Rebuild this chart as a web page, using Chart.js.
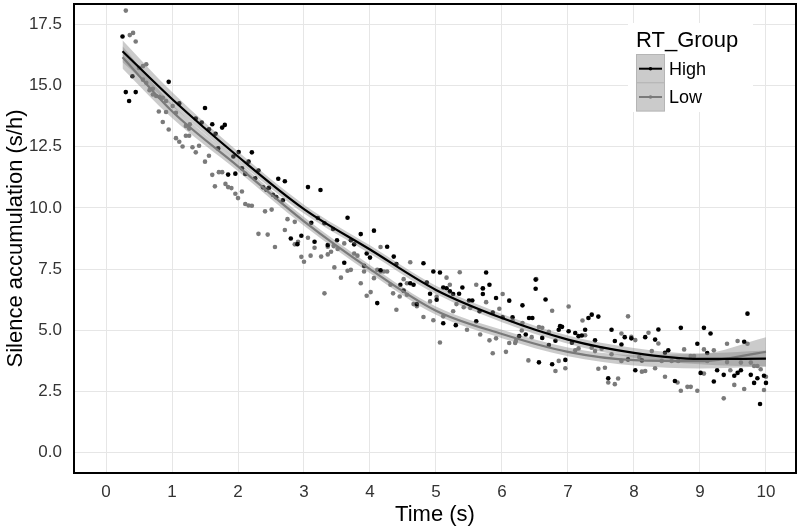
<!DOCTYPE html>
<html><head><meta charset="utf-8">
<script src="https://cdn.jsdelivr.net/npm/chart.js@4.4.0/dist/chart.umd.min.js"></script>
<style>html,body{margin:0;padding:0;background:#fff}#wrap{width:800px;height:529px;position:relative}</style>
</head><body><div id="wrap"><canvas id="c" width="800" height="529"></canvas></div>
<script>
// ---- data ----
const xTicks = [0,1,2,3,4,5,6,7,8,9,10];
const yTicks = [0,2.5,5,7.5,10,12.5,15,17.5];
const xTitle = 'Time (s)';
const yTitle = 'Silence accumulation (s/h)';
const groupTitle = 'RT_Group';
const groupNames = ['High','Low'];

const highPoints = [[0.25,17.0],[0.30,14.73],[0.35,14.37],[0.40,15.38],[0.45,14.73],[0.95,15.15],[1.11,14.27],[1.36,13.65],[1.45,13.49],[1.50,14.08],[1.56,13.21],[1.61,13.42],[1.66,13.03],[1.70,12.43],[1.76,13.28],[1.80,13.39],[1.85,11.36],[1.93,12.10],[1.96,11.40],[2.01,12.28],[2.06,11.62],[2.11,11.39],[2.16,11.89],[2.21,12.27],[2.26,11.21],[2.31,11.53],[2.38,10.84],[2.43,10.74],[2.47,10.82],[2.53,10.54],[2.58,10.44],[2.61,11.19],[2.68,10.31],[2.71,11.09],[2.80,8.75],[2.90,8.52],[2.96,8.86],[3.06,10.85],[3.11,9.39],[3.16,8.62],[3.21,9.59],[3.25,10.73],[3.31,9.37],[3.36,8.48],[3.44,9.14],[3.50,8.68],[3.61,7.76],[3.66,9.60],[3.71,8.68],[3.76,8.51],[3.86,8.93],[3.91,7.63],[3.95,8.14],[4.00,7.97],[4.06,9.07],[4.11,6.11],[4.16,7.45],[4.26,8.41],[4.36,8.01],[4.40,7.71],[4.46,6.86],[4.51,6.62],[4.61,6.92],[4.66,6.86],[4.71,6.07],[4.81,7.74],[4.86,6.95],[4.91,6.49],[4.96,7.40],[5.01,6.25],[5.06,7.36],[5.11,6.75],[5.11,5.29],[5.16,6.72],[5.21,6.59],[5.26,6.48],[5.30,5.21],[5.35,6.49],[5.40,6.75],[5.50,6.22],[5.55,6.22],[5.61,5.37],[5.66,5.78],[5.71,6.72],[5.71,6.48],[5.76,7.36],[5.81,6.86],[5.86,5.72],[5.91,6.32],[6.01,5.53],[6.11,6.21],[6.16,5.53],[6.26,4.76],[6.31,6.02],[6.36,4.83],[6.41,5.50],[6.46,5.50],[6.51,7.07],[6.51,6.70],[6.56,3.69],[6.61,4.69],[6.66,6.26],[6.71,4.40],[6.76,3.61],[6.81,4.57],[6.86,5.02],[6.88,5.17],[6.91,5.14],[6.96,3.79],[7.01,4.96],[7.06,4.49],[7.11,4.89],[7.16,4.76],[7.21,4.79],[7.26,5.02],[7.31,5.50],[7.36,5.64],[7.41,4.59],[7.46,5.56],[7.61,3.04],[7.66,5.02],[7.71,4.56],[7.81,4.42],[7.86,4.72],[7.91,3.81],[7.96,4.67],[8.02,3.37],[8.12,3.77],[8.17,4.72],[8.32,4.62],[8.37,5.03],[8.47,4.08],[8.52,4.18],[8.62,2.93],[8.71,5.10],[8.96,4.45],[9.01,3.26],[9.06,5.10],[9.11,4.07],[9.16,4.87],[9.21,2.91],[9.26,3.37],[9.36,3.18],[9.52,3.14],[9.57,3.26],[9.62,3.37],[9.67,4.53],[9.72,5.68],[9.77,3.18],[9.82,2.85],[9.87,3.04],[9.91,1.99],[9.97,3.14],[10.0,2.85]];

const lowPoints = [[0.30,18.06],[0.36,17.06],[0.41,17.15],[0.45,16.80],[0.50,15.72],[0.56,15.79],[0.56,15.24],[0.61,15.87],[0.61,15.11],[0.66,14.81],[0.71,14.87],[0.71,14.63],[0.76,14.57],[0.80,13.94],[0.81,14.54],[0.86,14.50],[0.86,13.51],[0.91,14.37],[0.91,13.92],[0.95,13.20],[1.01,14.16],[1.06,13.89],[1.06,12.85],[1.11,12.70],[1.16,12.51],[1.21,13.35],[1.21,12.95],[1.26,13.24],[1.26,12.95],[1.27,13.42],[1.31,12.48],[1.36,12.27],[1.41,12.54],[1.50,11.89],[1.56,12.13],[1.61,11.35],[1.65,10.88],[1.71,11.46],[1.76,11.46],[1.81,10.98],[1.85,10.85],[1.90,10.81],[1.96,10.58],[2.00,10.40],[2.06,10.67],[2.11,10.16],[2.16,10.10],[2.21,10.09],[2.31,8.94],[2.41,9.86],[2.45,8.91],[2.51,9.93],[2.56,8.40],[2.71,9.10],[2.75,9.54],[2.86,9.43],[2.86,8.51],[2.91,8.62],[2.96,8.00],[3.00,7.80],[3.06,8.78],[3.10,8.05],[3.16,8.37],[3.26,8.01],[3.31,6.51],[3.36,8.41],[3.36,8.10],[3.41,8.21],[3.45,8.44],[3.46,7.57],[3.51,8.32],[3.56,7.15],[3.61,8.55],[3.66,7.43],[3.71,7.47],[3.76,8.14],[3.81,8.05],[3.86,6.92],[3.91,7.40],[3.95,6.41],[4.01,6.56],[4.06,7.13],[4.11,7.47],[4.16,7.40],[4.16,8.40],[4.21,7.40],[4.26,7.40],[4.31,6.86],[4.35,6.51],[4.40,5.84],[4.45,6.38],[4.51,7.09],[4.56,6.45],[4.56,6.92],[4.61,7.78],[4.66,6.07],[4.71,5.98],[4.81,5.54],[4.91,6.18],[4.96,5.41],[5.01,6.37],[5.06,4.50],[5.11,5.57],[5.16,7.15],[5.21,6.86],[5.26,5.78],[5.31,6.07],[5.36,7.37],[5.42,5.94],[5.47,5.02],[5.52,5.91],[5.61,6.86],[5.67,4.83],[5.71,6.70],[5.76,6.15],[5.81,4.59],[5.86,4.06],[5.91,4.67],[5.96,5.88],[6.01,6.48],[6.06,4.12],[6.11,4.48],[6.16,5.40],[6.20,4.48],[6.21,4.56],[6.30,4.99],[6.31,5.30],[6.40,3.77],[6.45,4.72],[6.52,7.09],[6.56,5.13],[6.61,5.10],[6.71,4.94],[6.76,5.80],[6.81,3.34],[6.86,3.75],[6.96,3.45],[7.01,5.97],[7.11,4.18],[7.16,4.26],[7.22,5.40],[7.26,4.80],[7.36,4.29],[7.41,4.15],[7.46,3.43],[7.51,4.25],[7.56,3.47],[7.61,2.87],[7.66,4.02],[7.71,2.80],[7.76,3.03],[7.81,4.87],[7.81,3.75],[7.91,5.57],[7.96,4.73],[8.02,4.60],[8.08,3.91],[8.12,3.31],[8.17,3.34],[8.22,4.90],[8.27,4.15],[8.32,3.45],[8.37,4.46],[8.42,3.75],[8.47,3.10],[8.57,3.75],[8.66,2.87],[8.67,3.75],[8.71,2.53],[8.76,4.22],[8.81,2.69],[8.86,2.69],[8.86,3.95],[8.91,3.95],[8.96,2.53],[9.06,4.22],[9.06,3.23],[9.11,3.75],[9.21,4.18],[9.36,2.22],[9.41,4.45],[9.41,3.70],[9.46,3.37],[9.52,2.77],[9.57,4.56],[9.62,3.68],[9.67,2.60],[9.72,4.45],[9.77,3.68],[9.82,3.54],[9.87,3.54],[9.92,3.41],[9.97,2.56],[10.0,3.10]];

// smooth fit and confidence band edges
const fitX      = [0.25, 1,     2,    3,    4,    5,    6,    7,    8,    9,    10];
const highFit   = [16.4, 14.45, 12.1, 9.95, 8.3,  6.65, 5.5,  4.62, 4.08, 3.83, 3.84];
const highUpper = [16.85,14.73, 12.3, 10.13,8.47, 6.82, 5.67, 4.79, 4.28, 4.05, 4.17];
const highLower = [15.95,14.17, 11.9, 9.77, 8.13, 6.48, 5.33, 4.45, 3.88, 3.61, 3.51];
const lowFit    = [16.15,13.95, 11.7, 9.45, 7.5,  5.8,  4.85, 4.12, 3.78, 3.74, 4.12];
const lowUpper  = [16.6, 14.23, 11.9, 9.63, 7.67, 5.97, 5.02, 4.3,  4.0,  4.04, 4.72];
const lowLower  = [15.7, 13.67, 11.5, 9.27, 7.33, 5.63, 4.68, 3.94, 3.56, 3.44, 3.52];

// ---- build ----
const FONT = "'Liberation Sans', Arial, Helvetica, sans-serif";
Chart.defaults.font.family = FONT;
const pts = a => a.map(p => ({x:p[0], y:p[1]}));
const curve = ys => fitX.map((x,i) => ({x:x, y:ys[i]}));
const HIGH_C = '#000000', LOW_C = '#7a7a7a';
const BAND = 'rgba(130,130,130,0.42)';

const lineDs = (label, ys, color) => ({label, data:curve(ys), showLine:true, borderColor:color, borderWidth:2.2,
  pointRadius:0, fill:false, cubicInterpolationMode:'monotone', order:0});
const bandUp = (ys) => ({label:'band', data:curve(ys), showLine:true, borderWidth:0, borderColor:'rgba(0,0,0,0)',
  backgroundColor:BAND, pointRadius:0, fill:'+1', cubicInterpolationMode:'monotone', order:1});
const bandLo = (ys) => ({label:'band', data:curve(ys), showLine:true, borderWidth:0, borderColor:'rgba(0,0,0,0)',
  pointRadius:0, fill:false, cubicInterpolationMode:'monotone', order:1});
const ptDs = (label, a, color) => ({label, data:pts(a), showLine:false, pointRadius:2.3, pointBorderWidth:0,
  pointBackgroundColor:color, pointBorderColor:color, order:2});

const legendPlugin = {
  id:'ggLegend',
  afterDraw(chart){
    const ctx = chart.ctx;
    ctx.save();
    ctx.fillStyle = '#ffffff';
    ctx.fillRect(628, 23, 125, 89);
    ctx.fillStyle = '#000';
    ctx.textBaseline = 'middle';
    ctx.textAlign = 'left';
    ctx.font = "22px " + FONT;
    ctx.fillText(groupTitle, 636, 41);
    const colors = [HIGH_C, LOW_C];
    groupNames.forEach((name, i) => {
      const y0 = 54.5 + i*28.3;
      ctx.fillStyle = '#cbcbcb';
      ctx.fillRect(636.5, y0, 28, 28.3);
      ctx.strokeStyle = '#b5b5b5';
      ctx.lineWidth = 1;
      ctx.strokeRect(636.5, y0, 28, 28.3);
      const cy = y0 + 14.2;
      ctx.strokeStyle = colors[i];
      ctx.lineWidth = 2;
      ctx.beginPath(); ctx.moveTo(639, cy); ctx.lineTo(662, cy); ctx.stroke();
      ctx.fillStyle = colors[i];
      ctx.beginPath(); ctx.arc(650.5, cy, 1.8, 0, Math.PI*2); ctx.fill();
      ctx.fillStyle = '#000';
      ctx.font = "18px " + FONT;
      ctx.fillText(name, 669, cy + 1);
    });
    ctx.restore();
  }
};
const borderPlugin = {
  id:'panelBorder',
  afterDatasetsDraw(chart){
    const {ctx, chartArea:a} = chart;
    ctx.save();
    ctx.strokeStyle = '#000';
    ctx.lineWidth = 2;
    ctx.strokeRect(a.left, a.top, a.right - a.left, a.bottom - a.top);
    ctx.restore();
  }
};

new Chart(document.getElementById('c'), {
  type:'scatter',
  data:{datasets:[
    lineDs(groupNames[0], highFit, HIGH_C),
    lineDs(groupNames[1], lowFit, LOW_C),
    bandUp(highUpper), bandLo(highLower),
    bandUp(lowUpper), bandLo(lowLower),
    ptDs(groupNames[0], highPoints, HIGH_C),
    ptDs(groupNames[1], lowPoints, LOW_C)
  ]},
  options:{
    responsive:false, animation:false,
    layout:{padding:{top:1, right:4, left:0, bottom:0}},
    plugins:{legend:{display:false}, tooltip:{enabled:false}},
    scales:{
      x:{type:'linear', min:-0.485, max:10.455,
        afterBuildTicks: s => { s.ticks = xTicks.map(v => ({value:v})); },
        afterFit: s => { s.height = 56; s.paddingLeft = 0; s.paddingRight = 0; },
        grid:{color:'#e6e6e6', lineWidth:1, drawTicks:false},
        border:{display:false},
        ticks:{padding:9, color:'#333', font:{size:17}, maxRotation:0, callback: v => String(v)},
        title:{display:true, text:xTitle, color:'#000', font:{size:22}, padding:{top:0, bottom:1}}
      },
      y:{type:'linear', min:-0.83, max:18.33,
        afterBuildTicks: s => { s.ticks = yTicks.map(v => ({value:v})); },
        afterFit: s => { s.width = 74; s.paddingTop = 0; s.paddingBottom = 0; },
        grid:{color:'#e6e6e6', lineWidth:1, drawTicks:false},
        border:{display:false},
        ticks:{padding:12, color:'#333', font:{size:17}, callback: v => Number(v).toFixed(1)},
        title:{display:true, text:yTitle, color:'#000', font:{size:22}, padding:{top:3, bottom:0}}
      }
    }
  },
  plugins:[legendPlugin, borderPlugin]
});
</script></body></html>
